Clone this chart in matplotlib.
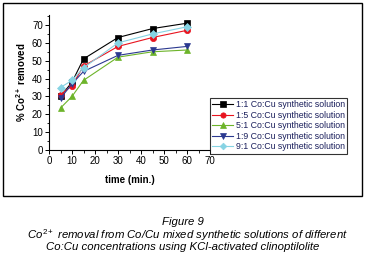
import matplotlib
matplotlib.use("Agg")
import matplotlib.pyplot as plt
from matplotlib.patches import Rectangle
from matplotlib.ticker import MultipleLocator

plt.rcParams['font.family'] = ['Liberation Sans', 'DejaVu Sans']
plt.rcParams['mathtext.fontset'] = 'custom'
plt.rcParams['mathtext.rm'] = 'Liberation Sans'
plt.rcParams['mathtext.it'] = 'Liberation Sans:italic'
plt.rcParams['mathtext.bf'] = 'Liberation Sans:bold'

time_min = [5, 10, 15, 30, 45, 60]
s_1_1 = [30, 38, 51, 63, 68, 71]
s_1_5 = [31, 36, 47, 58, 63, 67]
s_5_1 = [23.5, 30, 39, 52, 55, 56]
s_1_9 = [29, 37, 44, 53, 56, 58]
s_9_1 = [35, 39, 46, 60, 65, 69]
labels = ["1:1 Co:Cu synthetic solution", "1:5 Co:Cu synthetic solution",
          "5:1 Co:Cu synthetic solution", "1:9 Co:Cu synthetic solution",
          "9:1 Co:Cu synthetic solution"]
series = [s_1_1, s_1_5, s_5_1, s_1_9, s_9_1]
colors = ['#000000', '#e8141f', '#6db42a', '#2b3990', '#86d3e3']
markers = ['s', 'o', '^', 'v', 'D']
msizes = [4.5, 4.5, 4.5, 4.5, 4.0]

fig = plt.figure(figsize=(3.66, 2.57), dpi=100)
fig.patch.set_facecolor('white')

# outer frame
fig.patches.append(Rectangle((3/366, 1-196/257), 359/366, 193/257,
                             transform=fig.transFigure, fill=False,
                             edgecolor='black', linewidth=1.0))

ax = fig.add_axes([49/366, 1-150/257, 161/366, 135/257])
handles = []
for ys, c, m, ms, lab in zip(series, colors, markers, msizes, labels):
    h, = ax.plot(time_min, ys, color=c, marker=m, markersize=ms, linewidth=0.8,
                 label=lab, markeredgewidth=0.5)
    handles.append(h)

ax.set_xlim(0, 70)
ax.set_ylim(0, 75.6)
ax.spines['top'].set_visible(False)
ax.spines['right'].set_visible(False)
for s in ['left', 'bottom']:
    ax.spines[s].set_linewidth(0.8)
ax.xaxis.set_major_locator(MultipleLocator(10))
ax.xaxis.set_minor_locator(MultipleLocator(5))
ax.yaxis.set_major_locator(MultipleLocator(10))
ax.yaxis.set_minor_locator(MultipleLocator(5))
ax.tick_params(which='major', direction='out', length=3, width=0.7,
               labelsize=7, pad=1.5)
ax.tick_params(which='minor', direction='out', length=1.8, width=0.6)
ax.set_xlabel('time (min.)', fontsize=7, fontweight='bold', labelpad=6)
ax.set_ylabel(r'% Co$^{\mathbf{2+}}$ removed', fontsize=7, fontweight='bold',
              labelpad=3)

leg = fig.legend(handles=handles, loc='upper left',
                 bbox_to_anchor=(210/366, 1-98/257), fontsize=6.3,
                 frameon=True, fancybox=False, edgecolor='black',
                 handlelength=2.4, handletextpad=0.3, borderpad=0.25,
                 labelspacing=0.18, borderaxespad=0, markerscale=0.85)
leg.get_frame().set_linewidth(0.8)
for t in leg.get_texts():
    t.set_color('#1a1f5c')

fig.text(183/366, 1-222/257, 'Figure 9', ha='center', va='center',
         fontsize=8.2, style='italic')
fig.text(187/366, 1-235/257,
         r'$\mathit{Co}^{\mathit{2+}}$ removal from Co/Cu mixed synthetic solutions of different',
         ha='center', va='center', fontsize=8.2, style='italic')
fig.text(183/366, 1-247/257,
         'Co:Cu concentrations using KCl-activated clinoptilolite',
         ha='center', va='center', fontsize=8.2, style='italic')

fig.savefig('out.png', dpi=100)
